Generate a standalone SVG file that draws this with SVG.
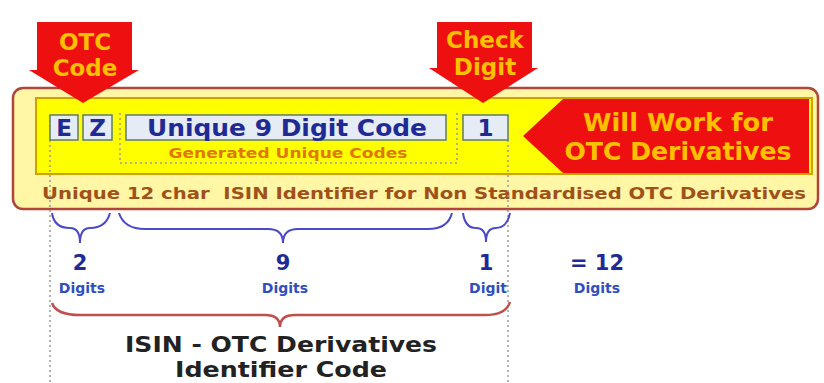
<svg xmlns="http://www.w3.org/2000/svg" width="824" height="383" viewBox="0 0 824 383">
<defs>
<style>
text{font-family:"DejaVu Sans","Open Sans",sans-serif;font-weight:bold;text-anchor:middle}
.box{fill:#e6ecf5;stroke:#5f7a6a;stroke-width:1.5}
.bt{fill:#1f2a94;font-size:23px}
.at{fill:#ffc000;font-size:23px}
.num{fill:#1f2a94;font-size:21px}
.dg{fill:#2f4fbf;font-size:14px}
.dot{stroke:#9a9a9a;stroke-width:1.5;stroke-dasharray:2 3;fill:none}
.brace{fill:none;stroke:#4a4ac8;stroke-width:2}
.red{fill:#ee1010}
</style>
</defs>
<rect width="824" height="383" fill="#ffffff"/>
<g id="outer">
<rect x="13" y="88" width="805" height="121" rx="10" fill="#fff7a6" stroke="#b2453a" stroke-width="2.5"/>
<rect x="36" y="98" width="776" height="76" fill="#ffff00" stroke="#d4a000" stroke-width="2"/>
<text x="424" y="199" xml:space="preserve" style="font-size:16px;fill:#a0501a" textLength="764" lengthAdjust="spacingAndGlyphs">Unique 12 char  ISIN Identifier for Non Standardised OTC Derivatives</text>
</g>
<g id="work-arrow">
<polygon class="red" points="523,136 563,99 809,99 809,173 563,173"/>
<text x="678" y="131" class="at" style="font-size:24px" textLength="190" lengthAdjust="spacingAndGlyphs">Will Work for</text>
<text x="678" y="160" class="at" style="font-size:24px" textLength="227" lengthAdjust="spacingAndGlyphs">OTC Derivatives</text>
</g>
<g id="guides">
<line class="dot" x1="50" y1="115" x2="50" y2="383"/>
<line class="dot" x1="508" y1="140" x2="508" y2="383"/>
<polyline class="dot" points="120,113 120,163 457,163 457,113"/>
</g>
<g id="box-e"><rect class="box" x="50" y="115" width="28" height="25"/><text class="bt" x="64" y="136">E</text></g>
<g id="box-z"><rect class="box" x="83" y="115" width="29" height="25"/><text class="bt" x="97.5" y="136">Z</text></g>
<g id="box-code"><rect class="box" x="126" y="115" width="320" height="25"/><text class="bt" x="287" y="136" textLength="280" lengthAdjust="spacingAndGlyphs">Unique 9 Digit Code</text>
<text x="288" y="158" style="font-size:14px;fill:#e07800" textLength="239" lengthAdjust="spacingAndGlyphs">Generated Unique Codes</text></g>
<g id="box-1"><rect class="box" x="463" y="115" width="45" height="25"/><text class="bt" x="485.5" y="136">1</text></g>
<g id="otc-arrow">
<polygon class="red" points="37,22 132,22 132,70 139,70 83,103 29,70 37,70"/>
<text class="at" x="85" y="50">OTC</text>
<text class="at" x="85" y="76">Code</text>
</g>
<g id="check-arrow">
<polygon class="red" points="437,22 532,22 532,68 538,68 483,103 429,68 437,68"/>
<text class="at" x="485" y="48">Check</text>
<text class="at" x="485" y="75">Digit</text>
</g>
<g id="connectors">
<path class="brace" d="M52,213 Q54,228 70,228 Q80,228 80,243 Q80,228 90,228 Q106,228 110,213"/>
<path class="brace" d="M119,213 Q124,229 145,229 L268,229 Q283,229 283,243 Q283,229 298,229 L428,229 Q448,229 452,213"/>
<path class="brace" d="M463,213 Q465,228 476,228 Q486,228 486,242 Q486,228 496,228 Q507,228 510,213"/>
<path d="M52,303 Q56,315 80,315 L265,315 Q280,315 280,327 Q280,315 295,315 L485,315 Q506,315 510,302" fill="none" stroke="#c0504d" stroke-width="2.5"/>
</g>
<g id="counts">
<text class="num" x="80" y="270">2</text><text class="dg" x="82" y="293">Digits</text>
<text class="num" x="283" y="270">9</text><text class="dg" x="285" y="293">Digits</text>
<text class="num" x="486" y="270">1</text><text class="dg" x="488" y="293">Digit</text>
<text class="num" x="597" y="270">= 12</text><text class="dg" x="597" y="293">Digits</text>
</g>
<g id="title">
<text x="281" y="352" style="font-size:21px;fill:#222" textLength="312" lengthAdjust="spacingAndGlyphs">ISIN - OTC Derivatives</text>
<text x="281" y="377" style="font-size:21px;fill:#222" textLength="212" lengthAdjust="spacingAndGlyphs">Identifier Code</text>
</g>
</svg>
